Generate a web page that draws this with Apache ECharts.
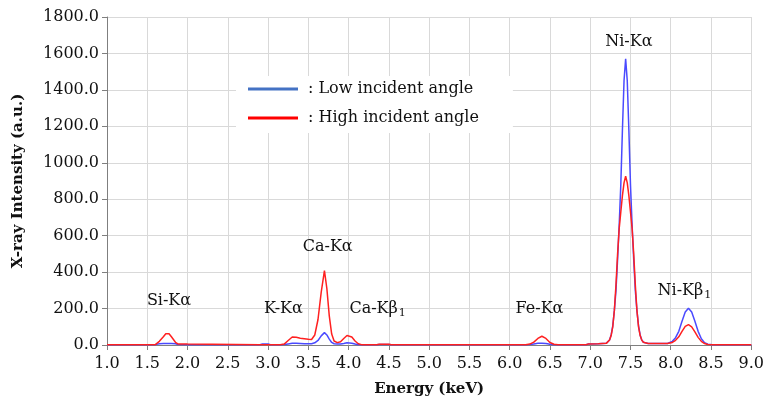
<!DOCTYPE html>
<html>
<head>
<meta charset="utf-8">
<script src="https://cdn.jsdelivr.net/npm/echarts@6/dist/echarts.min.js"></script>
<style>
  html, body { margin: 0; padding: 0; background: #fff; }
  #chart { width: 767px; height: 403px; }
</style>
</head>
<body>
<div id="chart"></div>
<script>
// energy grid (keV), dense only around the peaks
const energyKeV = [
  1.0, 1.5, 1.6, 1.65, 1.7, 1.73, 1.77, 1.8, 1.85, 1.88, 2.0, 2.02,
  2.9, 2.93, 3.0, 3.03, 3.15, 3.2, 3.25, 3.3, 3.35, 3.4, 3.45, 3.5, 3.54,
  3.58, 3.62, 3.66, 3.7, 3.73, 3.76, 3.79, 3.82, 3.86, 3.9, 3.94, 3.98, 4.0, 4.04, 4.08, 4.12, 4.16,
  4.35, 4.38, 4.5, 4.53,
  6.2, 6.25, 6.3, 6.35, 6.4, 6.45, 6.5, 6.55, 6.6,
  6.95, 6.98, 7.1,
  7.2, 7.22, 7.24, 7.26, 7.28, 7.3, 7.32, 7.34, 7.36, 7.38, 7.4, 7.42,
  7.44,
  7.46, 7.48, 7.5, 7.52, 7.54, 7.56, 7.58, 7.6, 7.62, 7.64, 7.66, 7.68,
  7.72, 7.96,
  7.98, 8.02, 8.06, 8.1, 8.14, 8.18, 8.22, 8.26, 8.3, 8.34, 8.38, 8.42, 8.46, 8.52,
  9.0
];
const lowAngle = [
  1, 1, 2, 7, 8, 8, 8, 8, 7, 3, 2, 1,
  1, 5, 5, 1, 1, 3, 6, 9, 9, 8, 7, 7, 7,
  12, 25, 50, 68, 55, 32, 14, 7, 5, 5, 8, 12, 13, 10, 5, 2, 1,
  1, 3, 3, 1,
  1, 3, 6, 9, 10, 8, 4, 2, 1,
  1, 6, 7,
  9, 15, 28, 55, 105, 190, 300, 470, 660, 880, 1180, 1450,
  1570,
  1450, 1180, 880, 660, 470, 300, 190, 105, 55, 28, 15, 10,
  8, 8,
  11, 20, 40, 75, 130, 181, 202, 181, 130, 75, 34, 13, 4, 1,
  1
];
const highAngle = [
  1, 1, 2, 20, 45, 62, 62, 45, 15, 6, 5, 1,
  1, 2, 2, 1, 2, 5, 25, 44, 42, 37, 34, 31, 30,
  55, 140, 290, 408, 310, 160, 60, 22, 13, 18, 36, 52, 55, 44, 22, 7, 2,
  1, 4, 4, 1,
  1, 5, 16, 36, 48, 36, 14, 4, 1,
  1, 6, 7,
  9, 15, 27, 52, 100, 190, 330, 500, 640, 730, 820, 890,
  926,
  890, 820, 730, 640, 500, 330, 190, 100, 52, 27, 15, 10,
  8, 8,
  10, 14, 26, 45, 75, 102, 112, 100, 72, 42, 20, 8, 3, 1,
  1
];

// peak annotations (text centre in data coordinates)
const peakLabels = ['Si-Kα', 'K-Kα', 'Ca-Kα', 'Ca-Kβ1', 'Fe-Kα', 'Ni-Kα', 'Ni-Kβ1'];
const labelEnergy = [1.77, 3.19, 3.74, 4.36, 6.37, 7.48, 8.17];
const labelIntensity = [240, 198, 541, 198, 198, 1662, 299];

const serif = 'DejaVu Serif';

const pair = (xs, ys) => xs.map((x, i) => [x, ys[i]]);

const chart = echarts.init(document.getElementById('chart'));
chart.setOption({
  animation: false,
  backgroundColor: '#fff',
  grid: { left: 107, right: 11, top: 17, bottom: 58 },
  legend: {
    left: 236,
    top: 76,
    orient: 'vertical',
    backgroundColor: '#fff',
    padding: [4, 34, 6, 12],
    icon: 'rect',
    itemWidth: 50,
    itemHeight: 3,
    itemGap: 11,
    textStyle: { fontFamily: serif, fontSize: 16, color: '#111', lineHeight: 18, padding: [0, 0, 0, 5] },
    data: [
      { name: ': Low incident angle', itemStyle: { color: '#4472C4' } },
      { name: ': High incident angle', itemStyle: { color: '#ff0000' } }
    ]
  },
  xAxis: {
    type: 'value',
    min: 1.0,
    max: 9.0,
    interval: 0.5,
    name: 'Energy (keV)',
    nameLocation: 'middle',
    nameGap: 37,
    nameTextStyle: { fontFamily: serif, fontSize: 15, fontWeight: 'bold', color: '#111' },
    axisLine: { lineStyle: { color: '#7f7f7f' } },
    axisTick: { show: true, length: 5, lineStyle: { color: '#7f7f7f' } },
    axisLabel: {
      fontFamily: serif, fontSize: 16, color: '#111', margin: 11,
      formatter: v => v.toFixed(1)
    },
    splitLine: { show: true, lineStyle: { color: '#d9d9d9' } }
  },
  yAxis: {
    type: 'value',
    min: 0,
    max: 1800,
    interval: 200,
    name: 'X-ray Intensity (a.u.)',
    nameLocation: 'middle',
    nameGap: 81,
    nameTextStyle: { fontFamily: serif, fontSize: 15, fontWeight: 'bold', color: '#111' },
    axisLine: { show: true, lineStyle: { color: '#7f7f7f' } },
    axisTick: { show: true, length: 5, lineStyle: { color: '#7f7f7f' } },
    axisLabel: {
      fontFamily: serif, fontSize: 16, color: '#111', margin: 8,
      formatter: v => v.toFixed(1)
    },
    splitLine: { show: true, lineStyle: { color: '#d9d9d9' } }
  },
  series: [
    {
      name: ': Low incident angle',
      type: 'line',
      symbol: 'none',
      color: '#4a4aff',
      lineStyle: { width: 1.5, color: '#4a4aff' },
      data: pair(energyKeV, lowAngle)
    },
    {
      name: ': High incident angle',
      type: 'line',
      symbol: 'none',
      color: '#ff2020',
      lineStyle: { width: 1.5, color: '#ff2020' },
      data: pair(energyKeV, highAngle)
    }
  ]
});

// peak names placed through the grid's own coordinate conversion
chart.setOption({
  graphic: peakLabels.map((name, i) => {
    const pt = chart.convertToPixel({ gridIndex: 0 }, [labelEnergy[i], labelIntensity[i]]);
    const sub = name.endsWith('1');
    return {
      type: 'text',
      x: pt[0],
      y: pt[1],
      silent: true,
      style: {
        text: sub ? '{m|' + name.slice(0, -1) + '}{s|1}' : name,
        fontFamily: serif,
        fontSize: 16,
        fill: '#111',
        align: 'center',
        verticalAlign: 'middle',
        rich: {
          m: { fontFamily: serif, fontSize: 16, fill: '#111', lineHeight: 20 },
          s: { fontFamily: serif, fontSize: 11, fill: '#111', lineHeight: 20, verticalAlign: 'bottom', padding: [8, 0, 0, 1] }
        }
      }
    };
  })
});
</script>
</body>
</html>
